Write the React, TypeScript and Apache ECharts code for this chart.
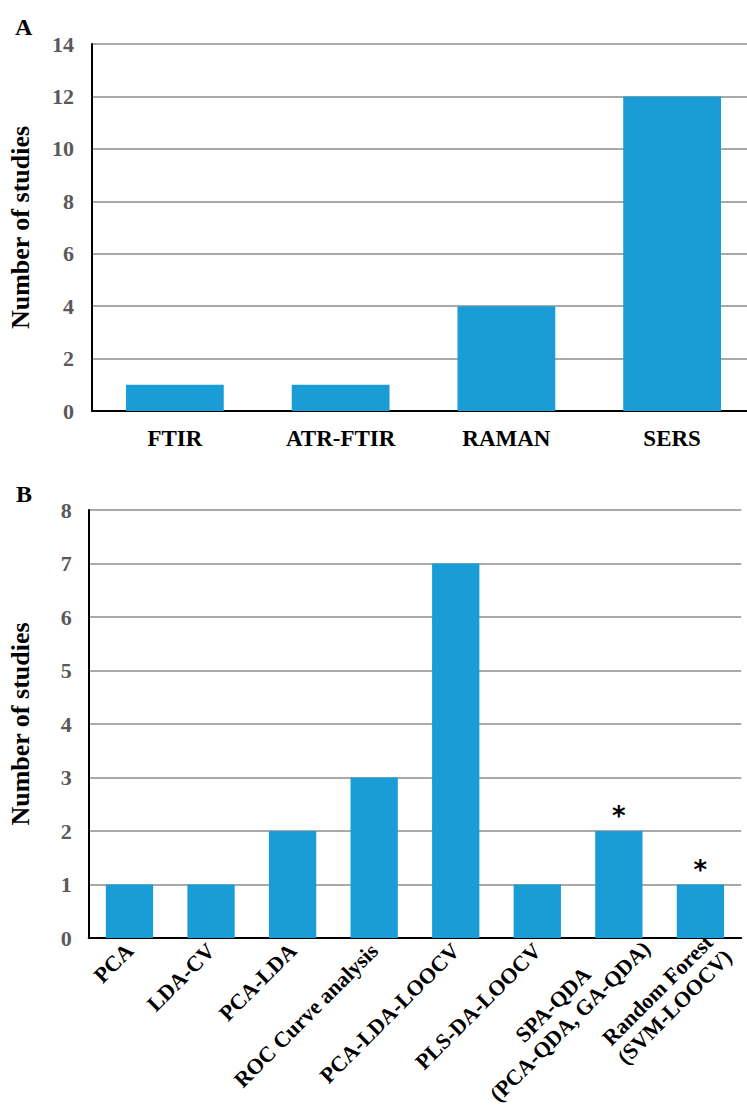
import React, { useEffect, useRef } from "react";
import * as echarts from "echarts";

const catsA = ["FTIR", "ATR-FTIR", "RAMAN", "SERS"];
const valsA = [1, 1, 4, 12];

const catsB = [
  "PCA",
  "LDA-CV",
  "PCA-LDA",
  "ROC Curve analysis",
  "PCA-LDA-LOOCV",
  "PLS-DA-LOOCV",
  "SPA-QDA\n(PCA-QDA, GA-QDA)",
  "Random Forest\n(SVM-LOOCV)",
];
const valsB = [1, 1, 2, 3, 7, 1, 2, 1];
const marksB = ["", "", "", "", "", "", "*", "*"];

const BAR = "#1a9cd6";
const FONT = "'Liberation Serif', 'Times New Roman', serif";

// label nudges for the two-line rotated category labels
const twoLinePadding: Record<string, number[]> = {
  "SPA-QDA\n(PCA-QDA, GA-QDA)": [12, -21, 0, 0],
  "Random Forest\n(SVM-LOOCV)": [24, -15, 0, 0],
};

export default function App() {
  const ref = useRef<HTMLDivElement>(null);
  useEffect(() => {
    if (!ref.current) return;
    const chart = echarts.init(ref.current, undefined, { renderer: "svg" });
    const yLabel = { color: "#595959", fontFamily: FONT, fontWeight: "bold" as const, fontSize: 22 };
    const nameStyle = { color: "#000", fontFamily: FONT, fontWeight: "bold" as const, fontSize: 26 };
    chart.setOption({
      animation: false,
      grid: [
        { left: 92, top: 44, width: 663, height: 367, outerBoundsMode: "none", containLabel: false },
        { left: 88.7, top: 510, width: 652.5, height: 428, outerBoundsMode: "none", containLabel: false },
      ],
      xAxis: [
        {
          gridIndex: 0,
          type: "category",
          data: catsA,
          axisTick: { show: false },
          axisLine: { lineStyle: { color: "#000", width: 2 } },
          axisLabel: { margin: 16, color: "#000", fontFamily: FONT, fontWeight: "bold", fontSize: 23 },
        },
        {
          gridIndex: 1,
          type: "category",
          data: catsB.map((c) =>
            twoLinePadding[c] ? { value: c, textStyle: { padding: twoLinePadding[c] } } : c
          ),
          axisTick: { show: false },
          axisLine: { lineStyle: { color: "#000", width: 2 } },
          axisLabel: {
            margin: 9,
            rotate: 45,
            interval: 0,
            hideOverlap: false,
            color: "#000",
            fontFamily: FONT,
            fontWeight: "bold",
            fontSize: 22,
            lineHeight: 24,
            formatter: (v: string) => v.split("\n").map((s) => `{c|${s}}`).join("\n"),
            rich: { c: { align: "center", fontFamily: FONT, fontWeight: "bold", fontSize: 22, lineHeight: 24, color: "#000" } },
          },
        },
      ],
      yAxis: [
        {
          gridIndex: 0,
          type: "value",
          min: 0,
          max: 14,
          interval: 2,
          name: "Number of studies",
          nameLocation: "middle",
          nameGap: 59,
          nameTextStyle: nameStyle,
          axisLine: { show: true, lineStyle: { color: "#000", width: 2 } },
          axisTick: { show: false },
          axisLabel: { ...yLabel, margin: 18 },
          splitLine: { lineStyle: { color: "#8c8c8c", width: 1.5 } },
        },
        {
          gridIndex: 1,
          type: "value",
          min: 0,
          max: 8,
          interval: 1,
          name: "Number of studies",
          nameLocation: "middle",
          nameGap: 55,
          nameTextStyle: nameStyle,
          axisLine: { show: true, lineStyle: { color: "#000", width: 2 } },
          axisTick: { show: false },
          axisLabel: { ...yLabel, margin: 17 },
          splitLine: { lineStyle: { color: "#8c8c8c", width: 1.5 } },
        },
      ],
      series: [
        {
          type: "bar",
          xAxisIndex: 0,
          yAxisIndex: 0,
          data: valsA,
          barCategoryGap: "41%",
          itemStyle: { color: BAR },
        },
        {
          type: "bar",
          xAxisIndex: 1,
          yAxisIndex: 1,
          data: valsB.map((v, i) => ({
            value: v,
            label: {
              show: marksB[i] !== "",
              formatter: marksB[i],
              position: "top",
              distance: 2,
              color: "#000",
              fontSize: 26,
              fontWeight: "bold",
              fontFamily: "'DejaVu Sans', sans-serif",
            },
          })),
          barCategoryGap: "42%",
          itemStyle: { color: BAR },
        },
      ],
      graphic: [
        { type: "text", left: 15, top: 15, style: { text: "A", fontFamily: FONT, fontWeight: "bold", fontSize: 24, fill: "#000" } },
        { type: "text", left: 16, top: 482, style: { text: "B", fontFamily: FONT, fontWeight: "bold", fontSize: 24, fill: "#000" } },
      ],
    });
    return () => chart.dispose();
  }, []);
  return <div ref={ref} style={{ position: "absolute", left: 0, top: 0, width: 747, height: 1109 }} />;
}
